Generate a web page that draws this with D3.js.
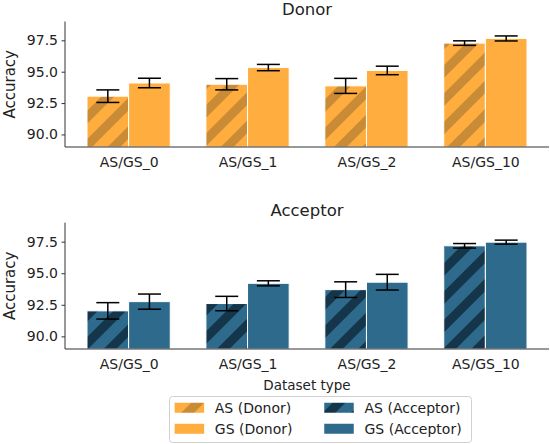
<!DOCTYPE html>
<html><head><meta charset="utf-8">
<script src="https://cdn.jsdelivr.net/npm/d3@7"></script>
<style>body{margin:0;background:#fff}svg{display:block;font-family:"DejaVu Sans",sans-serif}</style>
</head><body><svg id="c" width="550" height="444"></svg>
<script>
const categories = ["AS/GS_0","AS/GS_1","AS/GS_2","AS/GS_10"];
const donorAS = [93.05, 94.0, 93.87, 97.28];
const donorASErr = [0.5, 0.45, 0.6, 0.18];
const donorGS = [94.1, 95.33, 95.1, 97.65];
const donorGSErr = [0.38, 0.25, 0.34, 0.2];
const accAS = [92.02, 92.6, 93.7, 97.17];
const accASErr = [0.65, 0.57, 0.62, 0.18];
const accGS = [92.75, 94.2, 94.29, 97.46];
const accGSErr = [0.6, 0.2, 0.62, 0.16];
const yTicks = [90, 92.5, 95, 97.5];
const legendLabels = ["AS (Donor)", "GS (Donor)", "AS (Acceptor)", "GS (Acceptor)"];

const ORANGE = "#FFAD3F", ORANGE_D = "#C98B35";
const BLUE = "#2E6A8C", BLUE_D = "#14354A";

const svg = d3.select("#c");
const defs = svg.append("defs");
function pattern(id, base, dark) {
  const p = defs.append("pattern").attr("id", id).attr("patternUnits", "userSpaceOnUse")
    .attr("width", 20).attr("height", 20).attr("patternTransform", "rotate(45)");
  p.append("rect").attr("width", 20).attr("height", 20).attr("fill", base);
  p.append("rect").attr("x", 0).attr("width", 9).attr("height", 20).attr("fill", dark);
}
pattern("hOr", ORANGE, ORANGE_D);
pattern("hBl", BLUE, BLUE_D);

const x = d3.scaleLinear().domain([-0.535, 3.535]).range([65, 549]);
const bw = 0.35;

function panel(top, bottom, title, asV, asE, gsV, gsE, base, hatch) {
  const y = d3.scaleLinear().domain([89, 99]).range([bottom, top]);
  const g = svg.append("g");
  const series = [
    {v: asV, e: asE, off: -bw, fill: `url(#${hatch})`},
    {v: gsV, e: gsE, off: 0, fill: base}
  ];
  series.forEach(s => {
    g.selectAll(null).data(categories).enter().append("rect")
      .attr("x", (d, i) => x(i + s.off))
      .attr("width", x(bw) - x(0))
      .attr("y", (d, i) => y(s.v[i]))
      .attr("height", (d, i) => y(89) - y(s.v[i]))
      .attr("fill", s.fill).attr("stroke", "#fff").attr("stroke-width", 1);
  });
  series.forEach(s => {
    categories.forEach((c, i) => {
      const cx = x(i + s.off + bw / 2);
      const eg = g.append("g").attr("stroke", "#000").attr("stroke-width", 1.5);
      eg.append("line").attr("x1", cx).attr("x2", cx).attr("y1", y(s.v[i] - s.e[i])).attr("y2", y(s.v[i] + s.e[i]));
      [s.v[i] - s.e[i], s.v[i] + s.e[i]].forEach(v => {
        eg.append("line").attr("x1", cx - 11.5).attr("x2", cx + 11.5).attr("y1", y(v)).attr("y2", y(v));
      });
    });
  });
  const ya = g.append("g").attr("transform", `translate(65,0)`)
    .call(d3.axisLeft(y).tickValues(yTicks).tickFormat(d3.format(".1f")).tickSize(3.5).tickPadding(3.5));
  ya.select(".domain").attr("d", `M0,${top}V${bottom}`);
  const xa = g.append("g").attr("transform", `translate(0,${bottom})`)
    .call(d3.axisBottom(x).tickValues(d3.range(categories.length)).tickFormat(i => categories[i]).tickSize(0).tickPadding(10));
  xa.select(".domain").attr("d", `M65,0H549`);
  [ya, xa].forEach(a => {
    a.select(".domain").attr("stroke", "#333").attr("stroke-width", 1);
    a.selectAll(".tick line").attr("stroke", "#333");
    a.selectAll("text").attr("font-size", 14).attr("fill", "#222").attr("font-family", "DejaVu Sans");
  });
  g.append("text").attr("x", 307).attr("y", top - 7).attr("text-anchor", "middle")
    .attr("font-size", 16.5).attr("fill", "#222").text(title);
  g.append("text").attr("transform", `translate(15,${(top + bottom) / 2}) rotate(-90)`)
    .attr("text-anchor", "middle").attr("font-size", 15).attr("fill", "#222").text("Accuracy");
  return y;
}

panel(21.5, 147, "Donor", donorAS, donorASErr, donorGS, donorGSErr, ORANGE, "hOr");
panel(222.7, 349, "Acceptor", accAS, accASErr, accGS, accGSErr, BLUE, "hBl");

svg.append("text").attr("x", 307).attr("y", 390).attr("text-anchor", "middle")
  .attr("font-size", 13.5).attr("fill", "#222").text("Dataset type");

// Legend
const lg = svg.append("g");
lg.append("rect").attr("x", 169.5).attr("y", 396.5).attr("width", 302).attr("height", 46)
  .attr("rx", 3).attr("fill", "#fff").attr("stroke", "#d0d0d0").attr("stroke-width", 1);
const legendFills = ["url(#hOr)", ORANGE, "url(#hBl)", BLUE];
const colX = [174.3, 324];
const rowY = [402.5, 423.5];
legendLabels.forEach((lab, k) => {
  const col = Math.floor(k / 2), row = k % 2;
  lg.append("rect").attr("x", colX[col]).attr("y", rowY[row]).attr("width", 30).attr("height", 10.5)
    .attr("fill", legendFills[k]).attr("stroke", "#fff").attr("stroke-width", 0.5);
  lg.append("text").attr("x", colX[col] + 40.5).attr("y", rowY[row] + 10.5).attr("font-size", 14)
    .attr("fill", "#222").text(lab);
});
</script></body></html>
